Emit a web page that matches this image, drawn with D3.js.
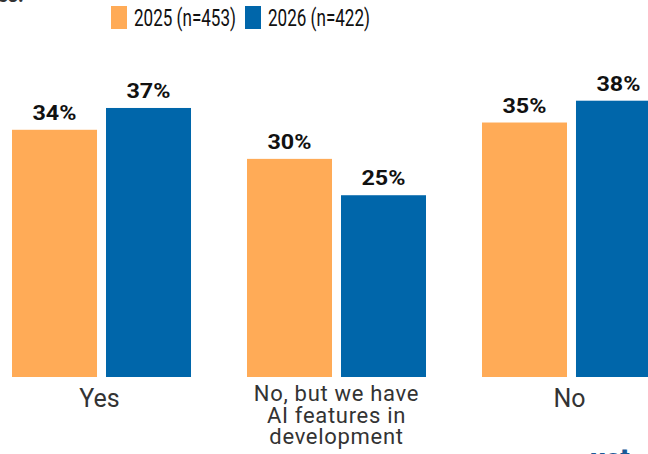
<!DOCTYPE html>
<html><head><meta charset="utf-8">
<script src="https://cdn.jsdelivr.net/npm/d3@7"></script>
<style>html,body{margin:0;padding:0;background:#fff;overflow:hidden}svg{display:block}</style>
</head><body>
<svg id="chart" width="648" height="454"></svg>
<script>
const categories = ["Yes", "No, but we have AI features in development", "No"];
const categoryLines = [["Yes"], ["No, but we have", "AI features in", "development"], ["No"]];
const seriesNames = ["2025 (n=453)", "2026 (n=422)"];
const values2025 = [34, 30, 35];
const values2026 = [37, 25, 38];
const colors = ["#FFAB57", "#0066AA"];

const svg = d3.select("#chart");
const baseY = 377;
const y = d3.scaleLinear().domain([0, 51.85]).range([baseY, 0]);
const x0 = d3.scaleBand().domain(categories).range([-16, 689]).paddingInner(0.2383).paddingOuter(0.1192);
const x1 = d3.scaleBand().domain(seriesNames).range([0, x0.bandwidth()]).paddingInner(0.0957).paddingOuter(0);

const data = categories.map((c, i) => ({cat: c, lines: categoryLines[i], vals: [values2025[i], values2026[i]]}));

// clipped heading remnant
svg.append("text").attr("x", -3).attr("y", 2).attr("font-family", "Roboto, sans-serif").attr("font-weight", 700)
  .attr("font-size", 20).attr("fill", "#333").text("es:");

const g = svg.selectAll("g.grp").data(data).join("g").attr("class", "grp")
  .attr("transform", d => `translate(${x0(d.cat)},0)`);

g.selectAll("rect").data(d => d.vals.map((v, j) => ({s: seriesNames[j], v, j}))).join("rect")
  .attr("x", d => x1(d.s)).attr("width", x1.bandwidth())
  .attr("y", d => y(d.v)).attr("height", d => baseY - y(d.v))
  .attr("fill", d => colors[d.j]);

g.selectAll("text.val").data(d => d.vals.map((v, j) => ({s: seriesNames[j], v, j}))).join("text")
  .attr("class", "val")
  .attr("x", d => x1(d.s) + x1.bandwidth() / 2).attr("y", d => y(d.v) - 10)
  .attr("text-anchor", "middle").attr("font-family", "Roboto, sans-serif").attr("font-weight", 700)
  .attr("font-size", 21).attr("fill", "#111")
  .attr("textLength", 44).attr("lengthAdjust", "spacingAndGlyphs").text(d => d.v + "%");

g.each(function(d) {
  const multi = d.lines.length > 1;
  const t = d3.select(this).append("text").attr("text-anchor", "middle")
    .attr("font-family", "Roboto, sans-serif").attr("font-size", multi ? 22 : 25).attr("fill", "#333");
  d.lines.forEach((l, k) => {
    t.append("tspan").attr("x", x0.bandwidth() / 2 - (multi ? 0 : 2)).attr("y", (multi ? 401 : 407) + k * 21.5)
      .style("letter-spacing", multi ? "0.7px" : "0px").text(l);
  });
});

// legend
const legend = svg.append("g");
const legX = [111, 245];
seriesNames.forEach((s, j) => {
  legend.append("rect").attr("x", legX[j]).attr("y", 6).attr("width", 16).attr("height", 23).attr("fill", colors[j]);
  legend.append("text").attr("x", legX[j] + 23).attr("y", 26).attr("font-family", "Roboto, sans-serif")
    .attr("font-size", 23).attr("fill", "#111")
    .attr("textLength", 102).attr("lengthAdjust", "spacingAndGlyphs").text(s);
});

// clipped logo remnant
svg.append("text").attr("x", 590).attr("y", 468).attr("font-family", "Roboto, sans-serif").attr("font-weight", 900)
  .attr("font-size", 28).attr("fill", "#1a5a96").text("ust");
</script>
</body></html>
